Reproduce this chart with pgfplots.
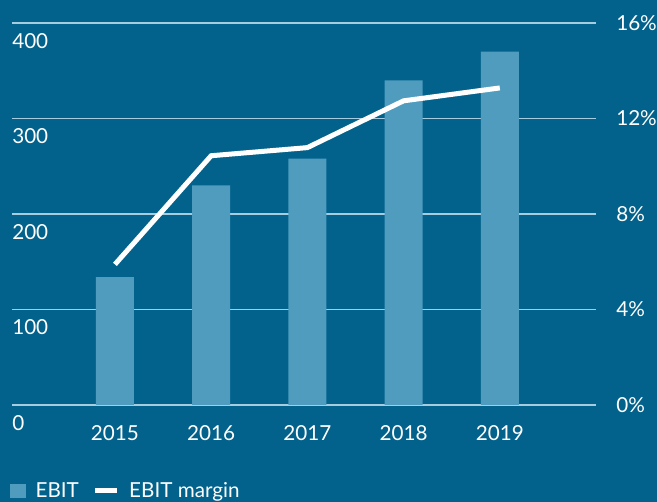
\documentclass[border=0pt]{standalone}
\usepackage{pgfplots}
\pgfplotsset{compat=1.18}
\usepackage{fontspec}
\setmainfont{Lato}
\definecolor{bg}{HTML}{03628B}
\definecolor{barc}{HTML}{4F9CBF}
\definecolor{gridc}{HTML}{A6CCE0}
\newcommand{\lblfont}{\fontsize{15.5}{18}\selectfont}
\begin{document}
\begin{tikzpicture}[x=0.75pt,y=0.75pt]
\fill[bg] (-12,-97) rectangle (645,405);
\begin{axis}[at={(0,0)}, anchor=south west, scale only axis,
  width=438pt, height=286.5pt,
  xmin=-1.07, xmax=5.0, ymin=0, ymax=400,
  axis line style={draw=none}, major tick length=0pt,
  ytick={0,100,...,400}, ymajorgrids, grid style={gridc, line width=1pt},
  xtick={0,...,4}, xticklabels={2015,2016,2017,2018,2019},
  /pgf/number format/assume math mode=true,
  ticklabel style={font=\lblfont, text=white, inner sep=0pt},
  yticklabel style={anchor=north west, yshift=-7.5pt},
  xticklabel style={anchor=north, yshift=-15pt},
  legend columns=2,
  legend style={draw=none, fill=none, text=white, font=\lblfont,
    at={(-0.0034,-0.225)}, anchor=west, inner sep=0pt,
    /tikz/every odd column/.append style={column sep=5pt},
    /tikz/every even column/.append style={column sep=8.5pt}},
  legend cell align=left,
]
\addplot[ybar, bar width=28.5pt, fill=barc, draw=none,
  legend image code/.code={\fill[barc] (0pt,-5.5pt) rectangle (12pt,5.5pt);}]
  coordinates {(0,134) (1,230) (2,258) (3,340) (4,370)};
\addlegendentry{EBIT}
\addlegendimage{legend image code/.code={\draw[white, line width=3.75pt] (0pt,0pt) -- (16.5pt,0pt);}}
\addlegendentry{EBIT margin}
\end{axis}
\begin{axis}[at={(0,0)}, anchor=south west, scale only axis,
  width=438pt, height=286.5pt,
  xmin=-1.07, xmax=5.0, ymin=0, ymax=16,
  axis y line*=right, hide x axis,
  axis line style={draw=none}, major tick length=0pt,
  ytick={0,4,...,16}, yticklabel={\pgfmathprintnumber{\tick}\%},
  /pgf/number format/assume math mode=true,
  ticklabel style={font=\lblfont, text=white, inner sep=0pt},
  yticklabel style={anchor=west, xshift=15pt},
]
\addplot[white, line width=3.75pt] coordinates {(0,5.89) (1,10.44) (2,10.78) (3,12.74) (4,13.28)};
\end{axis}
\pgfresetboundingbox
\path (-12,-97) rectangle (645,405);
\end{tikzpicture}
\end{document}
